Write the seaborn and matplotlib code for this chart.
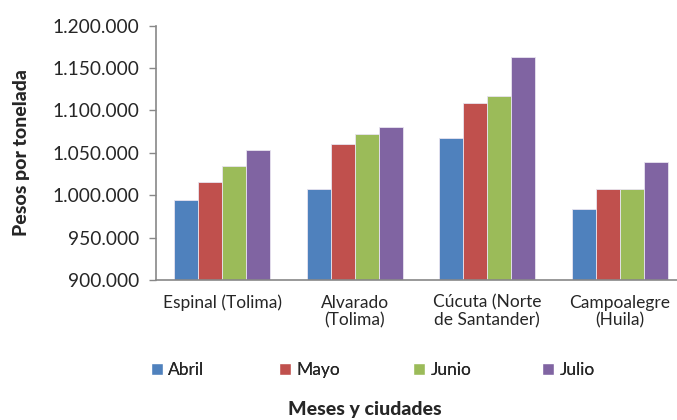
import numpy as np
import pandas as pd
import seaborn as sns
import matplotlib.pyplot as plt
from matplotlib.patches import Patch
from matplotlib.ticker import FuncFormatter

ciudades = ['Espinal (Tolima)', 'Alvarado\n(Tolima)', 'Cúcuta (Norte\nde Santander)', 'Campoalegre\n(Huila)']
meses = ['Abril', 'Mayo', 'Junio', 'Julio']
abril = [994500, 1007700, 1067000, 983800]
mayo = [1015700, 1060000, 1108700, 1007700]
junio = [1034500, 1071800, 1116600, 1007700]
julio = [1053000, 1080000, 1163000, 1039500]
colores = ['#4F81BD', '#C0504D', '#9BBB59', '#8064A2']

df = pd.DataFrame({'Ciudad': ciudades * 4,
                   'Mes': np.repeat(meses, 4),
                   'Precio': abril + mayo + junio + julio})

sns.set_style('white')
plt.rcParams['font.family'] = ['Lato', 'DejaVu Sans']

fig = plt.figure(figsize=(6.77, 4.2), dpi=100)
ax = fig.add_axes([156 / 677, 140 / 420, 530 / 677, 254.3 / 420])

sns.barplot(data=df, x='Ciudad', y='Precio', hue='Mes', palette=colores, saturation=1,
            width=0.725, edgecolor='#E8E4F0', linewidth=0.6, ax=ax, legend=False)

ax.set_ylim(900000, 1200000)
ax.set_yticks(np.arange(900000, 1200001, 50000))
ax.yaxis.set_major_formatter(FuncFormatter(lambda v, p: f'{int(v):,}'.replace(',', '.')))
ax.set_xlim(-0.5, 3.5)

for s in ['top', 'right']:
    ax.spines[s].set_visible(False)
for s in ['left', 'bottom']:
    ax.spines[s].set_color('#888888')
    ax.spines[s].set_linewidth(1.2)

ax.tick_params(axis='y', left=True, length=5, width=1, color='#888888', labelsize=13.8, pad=7)
ax.tick_params(axis='x', bottom=False, labelsize=12.5, pad=7)
for t in ax.get_xticklabels():
    t.set_horizontalalignment('center')
    t.set_multialignment('center')
    t.set_linespacing(1.15)

ax.set_xlabel('')
ax.set_ylabel('')
fig.text(22 / 677, 1 - 153 / 420, 'Pesos por tonelada', rotation=90, ha='center', va='center',
         fontsize=14, fontweight='black')
fig.text(365 / 677, 11 / 420, 'Meses y ciudades', ha='center', va='center',
         fontsize=14, fontweight='black')

xs = [144, 272, 406, 535]
for m, c, x in zip(meses, colores, xs):
    leg = fig.legend(handles=[Patch(facecolor=c, label=m)], loc='center left',
                     bbox_to_anchor=(x / 677, 1 - 370 / 420), frameon=False,
                     handlelength=0.7, handleheight=0.7, handletextpad=0.3,
                     fontsize=12.5, borderaxespad=0)
    fig.add_artist(leg)

fig.savefig('out.png', dpi=100)
